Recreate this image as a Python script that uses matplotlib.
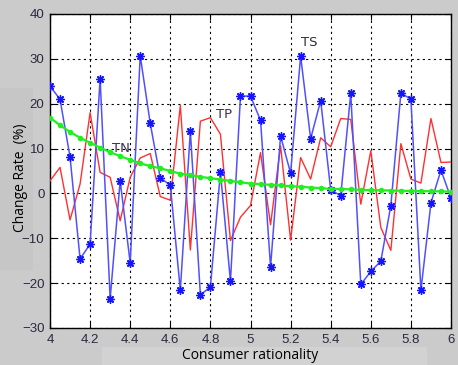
import numpy as np
import matplotlib
matplotlib.use('Agg')
import matplotlib.pyplot as plt
from matplotlib.patches import Rectangle

# Données
x = np.round(np.arange(4.0, 6.0001, 0.05), 2)

ts = [23.9, 21.0, 8.1, -14.6, -11.3, 25.6, -23.5, 2.8, -15.5, 30.7,
      15.6, 3.4, 1.9, -21.6, 13.9, -22.6, -20.9, 4.7, -19.6, 21.7,
      21.7, 16.3, -16.4, 12.8, 4.5, 30.6, 12.2, 20.7, 0.8, -0.5,
      22.3, -20.3, -17.4, -15.1, -2.7, 22.4, 21.0, -21.6, -2.1, 5.2, -1.1]

tp = [2.8, 5.8, -5.9, 2.1, 18.0, 4.7, 3.6, -6.1, 3.6, 7.9,
      8.9, -0.7, -1.5, 19.6, -12.6, 16.1, 16.9, 13.2, -10.5, -5.3,
      -2.7, 9.1, -7.0, 10.6, -10.4, 8.0, 3.2, 12.4, 10.4, 16.7,
      16.5, -2.4, 9.5, -7.6, -12.7, 11.1, 3.2, 2.3, 16.7, 6.9, 7.0]

tn = [16.9, 15.2, 13.7, 12.4, 11.3, 10.2, 9.2, 8.3, 7.5, 6.7,
      6.1, 5.6, 5.0, 4.4, 4.1, 3.7, 3.4, 3.1, 2.8, 2.5,
      2.2, 2.1, 1.9, 1.8, 1.6, 1.5, 1.3, 1.2, 1.0, 1.0,
      0.9, 0.8, 0.75, 0.7, 0.65, 0.6, 0.55, 0.5, 0.5, 0.45, 0.4]

xticks = [4, 4.2, 4.4, 4.6, 4.8, 5, 5.2, 5.4, 5.6, 5.8, 6]
xticklabels = ['4', '4.2', '4.4', '4.6', '4.8', '5', '5.2', '5.4', '5.6', '5.8', '6']
yticks = [-30, -20, -10, 0, 10, 20, 30, 40]

fig = plt.figure(figsize=(4.58, 3.65), dpi=100, facecolor='#cbcbcb')

# zones grises du fond (capture d'écran), derrière tout le reste
fig.patches.append(Rectangle((0, 1-270/365), 33/458, 182/365, transform=fig.transFigure,
                             facecolor='#c6c6c6', edgecolor='none', zorder=-5))
fig.patches.append(Rectangle((102/458, 0), 325/458, 18/365, transform=fig.transFigure,
                             facecolor='#d2d2d2', edgecolor='none', zorder=-5))

ax = fig.add_axes([50/458, 1-328/365, 401/458, 314/365])
ax.set_zorder(1)

ax.plot(x, tp, color='#ff3030', lw=1.0, zorder=3)
ax.plot(x, ts, color='#5050ff', lw=1.1, marker=(8, 2, 0), ms=6, mew=1.0,
        mec='#1515ff', zorder=4)
ax.plot(x, tn, color='#22ee22', lw=1.6, marker='.', ms=6, zorder=5)

ax.text(4.31, 10, 'TN', fontsize=9.5, color='#3d3050', va='center', ha='left', zorder=6)
ax.text(4.83, 17.5, 'TP', fontsize=9.5, color='#3d3050', va='center', ha='left', zorder=6)
ax.text(5.25, 33.6, 'TS', fontsize=9.5, color='#303030', va='center', ha='left', zorder=6)

ax.set_xlim(4, 6)
ax.set_ylim(-30, 40)
ax.set_xticks(xticks)
ax.set_xticklabels(xticklabels)
ax.set_yticks(yticks)
ax.grid(True, color='black', linestyle=(0, (2, 3)), linewidth=0.8)
ax.tick_params(direction='in', top=True, right=True, length=4, labelsize=9.5,
               labelcolor='#2c2840', pad=4)
for lab in ax.get_xticklabels() + ax.get_yticklabels():
    lab.set_family('Liberation Sans')
for s in ax.spines.values():
    s.set_linewidth(1.0)

ax.set_xlabel('Consumer rationality', fontsize=10, family='Open Sans', labelpad=2)
ax.set_ylabel('Change Rate  (%)', fontsize=10, family='Open Sans')
ax.yaxis.set_label_coords(-0.055, 0.48)

fig.savefig('out.png', dpi=100, facecolor=fig.get_facecolor())
